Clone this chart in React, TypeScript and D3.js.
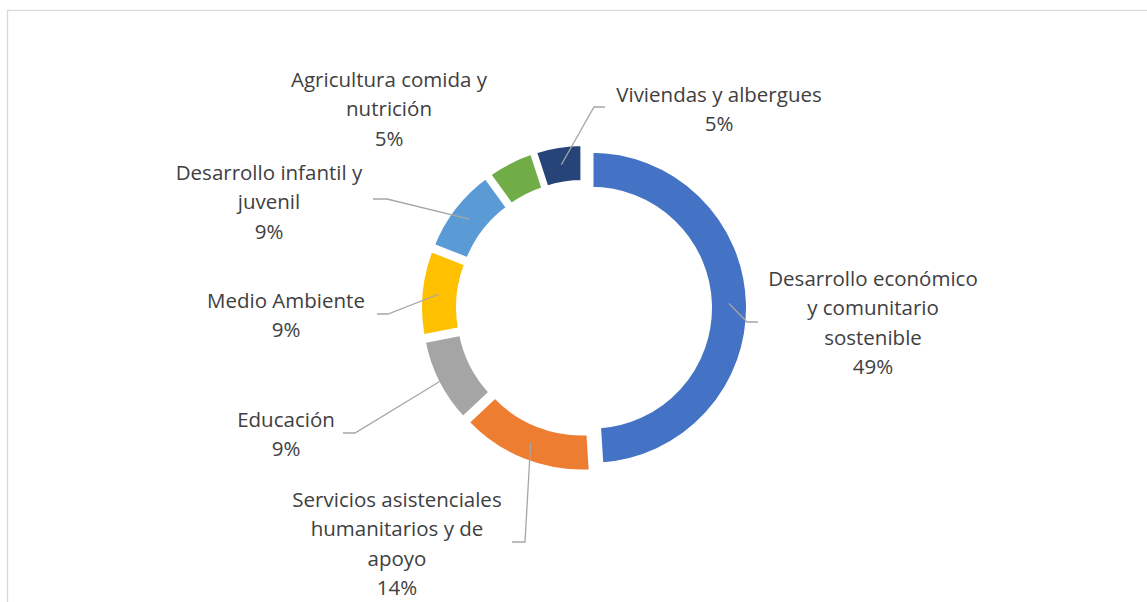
import React from "react";
import * as d3 from "d3";

const categories = [
  "Desarrollo económico y comunitario sostenible",
  "Servicios asistenciales humanitarios y de apoyo",
  "Educación",
  "Medio Ambiente",
  "Desarrollo infantil y juvenil",
  "Agricultura comida y nutrición",
  "Viviendas y albergues",
];
const values = [49, 14, 9, 9, 9, 5, 5];
const percentLabels = ["49%", "14%", "9%", "9%", "9%", "5%", "5%"];
const labelLines = [
  ["Desarrollo económico", "y comunitario", "sostenible"],
  ["Servicios asistenciales", "humanitarios y de", "apoyo"],
  ["Educación"],
  ["Medio Ambiente"],
  ["Desarrollo infantil y", "juvenil"],
  ["Agricultura comida y", "nutrición"],
  ["Viviendas y albergues"],
];
const colors = ["#4472C4", "#ED7D31", "#A5A5A5", "#FFC000", "#5B9BD5", "#70AD47", "#264478"];

// label layout (positions only)
const labelLayout: { x: number; y: number; startR: number | null; elbow?: [number, number]; end?: [number, number] }[] = [
  { x: 873, y: 286, startR: 145, elbow: [747, 322], end: [758, 322] },
  { x: 397, y: 507, startR: 145, elbow: [525, 542], end: [512, 542] },
  { x: 286, y: 427, startR: 162, elbow: [355, 433], end: [343, 433] },
  { x: 286, y: 308, startR: 146, elbow: [388, 314], end: [377, 314] },
  { x: 269, y: 180, startR: 145, elbow: [387, 199], end: [373, 199] },
  { x: 389, y: 87, startR: null },
  { x: 719, y: 102, startR: 145, elbow: [594, 107], end: [605, 107] },
];

const W = 1147;
const H = 602;
const cx = 584;
const cy = 308;
const outerR = 157.5;
const innerR = 118.5;
const explode = 7;
const lineH = 29.4;

export default function App() {
  const pie = d3
    .pie<number>()
    .sort(null)
    .value((d) => d)
    .startAngle(0)
    .endAngle(2 * Math.PI);
  const arcs = pie(values);
  const arc = d3.arc<d3.PieArcDatum<number>>().innerRadius(innerR).outerRadius(outerR);

  return (
    <svg
      width={W}
      height={H}
      style={{ position: "absolute", left: 0, top: 0, background: "#fff" }}
      fontFamily="'Open Sans', Lato, sans-serif"
    >
      <rect x={0} y={0} width={W} height={H} fill="#fff" />
      <rect x={7.5} y={10.5} width={W + 20} height={H + 20} fill="none" stroke="#d9d9d9" strokeWidth={1.3} />
      <g transform={`translate(${cx},${cy})`}>
        {arcs.map((a, i) => {
          const mid = (a.startAngle + a.endAngle) / 2;
          const dx = Math.sin(mid) * explode;
          const dy = -Math.cos(mid) * explode;
          return (
            <path
              key={categories[i]}
              d={arc(a) || ""}
              transform={`translate(${dx},${dy})`}
              fill={colors[i]}
              stroke="#fff"
              strokeWidth={5}
              strokeLinejoin="miter"
            />
          );
        })}
      </g>
      {arcs.map((a, i) => {
        const L = labelLayout[i];
        if (L.startR == null || !L.elbow || !L.end) return null;
        const mid = (a.startAngle + a.endAngle) / 2;
        const sx = cx + Math.sin(mid) * L.startR;
        const sy = cy - Math.cos(mid) * L.startR;
        return (
          <polyline
            key={"l" + i}
            points={`${sx},${sy} ${L.elbow[0]},${L.elbow[1]} ${L.end[0]},${L.end[1]}`}
            fill="none"
            stroke="#a6a6a6"
            strokeWidth={1.3}
          />
        );
      })}
      {categories.map((c, i) => {
        const L = labelLayout[i];
        const lines = [...labelLines[i], percentLabels[i]];
        return (
          <text key={"t" + i} x={L.x} y={L.y} textAnchor="middle" fill="#404040" fontSize={20.5}>
            {lines.map((ln, j) => (
              <tspan key={j} x={L.x} y={L.y + j * lineH}>
                {ln}
              </tspan>
            ))}
          </text>
        );
      })}
    </svg>
  );
}
